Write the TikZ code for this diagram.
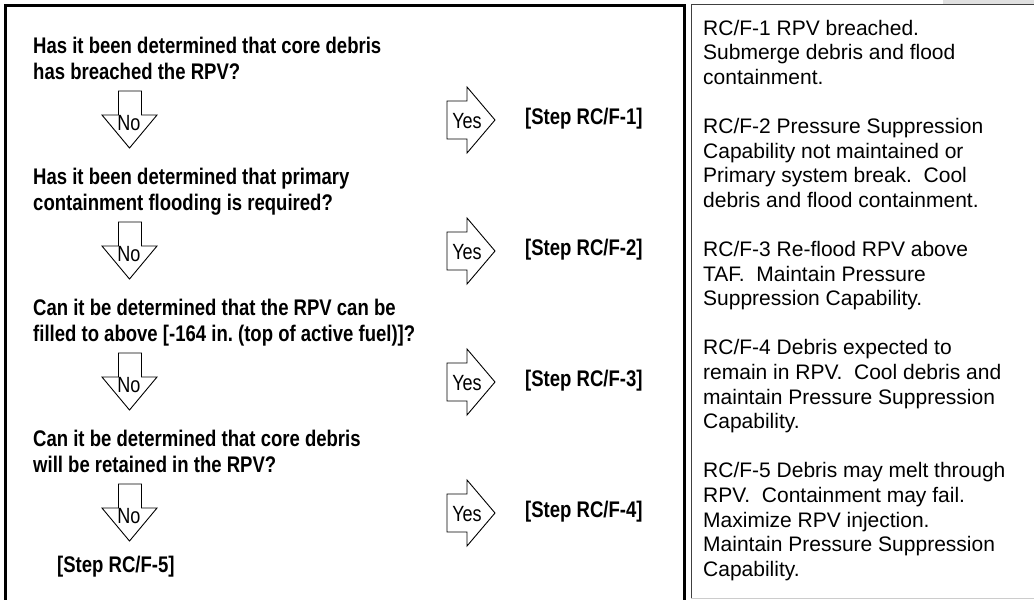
\documentclass[tikz,border=0pt]{standalone}
\usepackage{fontspec}
\setmainfont{Liberation Sans}
\newfontfamily\narrowfont{Liberation Sans}[FakeStretch=0.82]
\frenchspacing
\begin{document}
\begin{tikzpicture}[x=1pt,y=-1pt,
  qtext/.style={anchor=base west, inner sep=0pt, font=\narrowfont\bfseries\fontsize{22.6}{26}\selectfont},
  steptext/.style={anchor=west, inner sep=0pt, font=\narrowfont\bfseries\fontsize{22.6}{26}\selectfont},
  arrtext/.style={inner sep=0pt, font=\narrowfont\fontsize{22}{26}\selectfont},
  rtext/.style={anchor=base west, inner sep=0pt, font=\fontsize{21}{24.6}\selectfont},
  blockarrow/.style={draw=black, line width=0.9pt, fill=white, line join=miter},
  frame/.style={line width=3pt, line cap=rect},
]
\useasboundingbox (0,0) rectangle (1034,600);
\fill[white] (0,0) rectangle (1034,600);

% frames
\draw[frame] (5.5,602) -- (5.5,5.5) -- (684.5,5.5) -- (684.5,602);
\fill[black!12] (943,0) rectangle (1034,3.6);
\draw[black!75, line width=1.2pt] (691.2,598) -- (691.2,4.6) -- (1036,4.6);
\draw[black!20, line width=1.5pt] (691.2,598.5) -- (1036,598.5);

% questions
\node[qtext] (q1a) at (33,53) {Has it been determined that core debris};
\node[qtext] (q1b) at (33,79) {has breached the RPV?};
\node[qtext] (q2a) at (33,184) {Has it been determined that primary};
\node[qtext] (q2b) at (33,210) {containment flooding is required?};
\node[qtext] (q3a) at (33,315) {Can it be determined that the RPV can be};
\node[qtext] (q3b) at (33,341) {filled to above [-164 in. (top of active fuel)]?};
\node[qtext] (q4a) at (33,446) {Can it be determined that core debris};
\node[qtext] (q4b) at (33,472) {will be retained in the RPV?};

% No arrows and Yes arrows
\foreach \k in {0,1,2,3} {
  \pgfmathsetmacro{\ty}{91+131*\k}
  \pgfmathsetmacro{\cy}{120+131*\k}
  \draw[blockarrow] (118.5,\ty) -- (141.5,\ty) -- (141.5,\ty+24) -- (157,\ty+24)
        -- (129.5,\ty+57) -- (102,\ty+24) -- (118.5,\ty+24) -- cycle;
  \node[arrtext] (no\k) at (129,\ty+32) {No};
  \draw[blockarrow] (447,\cy-19) -- (467,\cy-19) -- (467,\cy-33) -- (495,\cy)
        -- (467,\cy+33) -- (467,\cy+19) -- (447,\cy+19) -- cycle;
  \node[arrtext] (yes\k) at (467,\cy+1) {Yes};
}

% steps
\node[steptext] (s1) at (525,119) {[Step RC/F-1]};
\node[steptext] (s2) at (525,250) {[Step RC/F-2]};
\node[steptext] (s3) at (525,381) {[Step RC/F-3]};
\node[steptext] (s4) at (525,512) {[Step RC/F-4]};
\node[steptext] (s5) at (57,567) {[Step RC/F-5]};

% right column
\def\rx{703}
\node[rtext] (r0) at (\rx,35) {RC/F-1 RPV breached.};
\node[rtext] (r1) at (\rx,59.6) {Submerge debris and flood};
\node[rtext] (r2) at (\rx,84.2) {containment.};
\node[rtext] (r4) at (\rx,133.4) {RC/F-2 Pressure Suppression};
\node[rtext] (r5) at (\rx,158) {Capability not maintained or};
\node[rtext] (r6) at (\rx,182.6) {Primary system break.\ \ Cool};
\node[rtext] (r7) at (\rx,207.2) {debris and flood containment.};
\node[rtext] (r9) at (\rx,256.4) {RC/F-3 Re-flood RPV above};
\node[rtext] (r10) at (\rx,281) {TAF.\ \ Maintain Pressure};
\node[rtext] (r11) at (\rx,305.6) {Suppression Capability.};
\node[rtext] (r13) at (\rx,354.8) {RC/F-4 Debris expected to};
\node[rtext] (r14) at (\rx,379.4) {remain in RPV.\ \ Cool debris and};
\node[rtext] (r15) at (\rx,404) {maintain Pressure Suppression};
\node[rtext] (r16) at (\rx,428.6) {Capability.};
\node[rtext] (r18) at (\rx,477.8) {RC/F-5 Debris may melt through};
\node[rtext] (r19) at (\rx,502.4) {RPV.\ \ Containment may fail.};
\node[rtext] (r20) at (\rx,527) {Maximize RPV injection.};
\node[rtext] (r21) at (\rx,551.6) {Maintain Pressure Suppression};
\node[rtext] (r22) at (\rx,576.2) {Capability.};
\end{tikzpicture}
\end{document}
